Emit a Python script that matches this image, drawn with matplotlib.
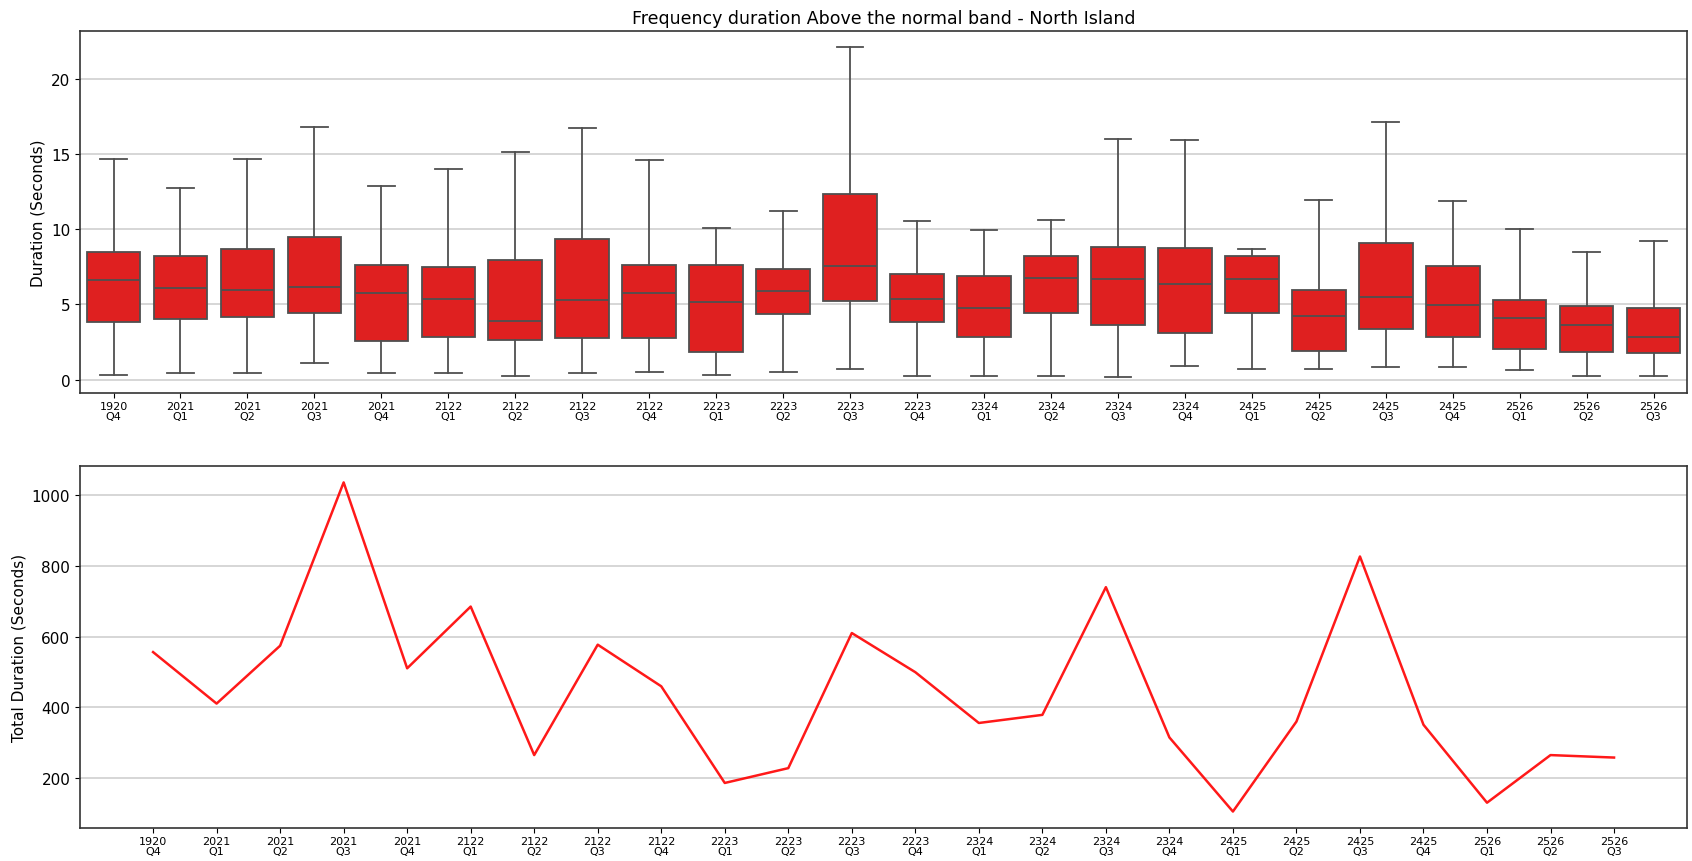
import matplotlib
matplotlib.use("Agg")
import matplotlib.pyplot as plt
import numpy as np

# quarter labels (financial year + quarter)
years = ["1920", "2021", "2021", "2021", "2021", "2122", "2122", "2122", "2122",
         "2223", "2223", "2223", "2223", "2324", "2324", "2324", "2324",
         "2425", "2425", "2425", "2425", "2526", "2526", "2526"]
quarters = ["Q4", "Q1", "Q2", "Q3", "Q4", "Q1", "Q2", "Q3", "Q4",
            "Q1", "Q2", "Q3", "Q4", "Q1", "Q2", "Q3", "Q4",
            "Q1", "Q2", "Q3", "Q4", "Q1", "Q2", "Q3"]

# box statistics per quarter (seconds)
whis_low = [0.31, 0.44, 0.44, 1.09, 0.44, 0.44, 0.24, 0.44, 0.47, 0.31, 0.53, 0.67,
            0.24, 0.24, 0.24, 0.18, 0.93, 0.67, 0.67, 0.80, 0.80, 0.60, 0.24, 0.24]
q1 = [3.84, 4.04, 4.17, 4.46, 2.53, 2.80, 2.60, 2.77, 2.77, 1.84, 4.33, 5.22,
      3.84, 2.86, 4.40, 3.64, 3.11, 4.46, 1.91, 3.33, 2.80, 2.04, 1.84, 1.78]
median = [6.61, 6.06, 5.97, 6.19, 5.75, 5.35, 3.88, 5.28, 5.75, 5.15, 5.90, 7.57,
          5.35, 4.79, 6.75, 6.66, 6.33, 6.66, 4.20, 5.48, 4.95, 4.11, 3.64, 2.86]
q3 = [8.46, 8.19, 8.68, 9.48, 7.64, 7.50, 7.97, 9.37, 7.64, 7.64, 7.37, 12.34,
      7.01, 6.88, 8.19, 8.81, 8.75, 8.19, 5.97, 9.08, 7.57, 5.28, 4.88, 4.79]
whis_high = [14.67, 12.74, 14.67, 16.83, 12.87, 13.98, 15.14, 16.76, 14.61, 10.06, 11.23, 22.15,
             10.57, 9.94, 10.63, 16.00, 15.92, 8.68, 11.96, 17.16, 11.85, 9.99, 8.46, 9.23]

# total duration per quarter (seconds)
total_duration = [556, 410, 574, 1037, 510, 685, 264, 577, 459, 185, 227, 610,
                  499, 355, 378, 740, 314, 104, 359, 827, 350, 129, 264, 257]

labels = [f"{y}\n{q}" for y, q in zip(years, quarters)]
x = np.arange(len(labels))

stats = []
for i in range(len(labels)):
    stats.append({"whislo": whis_low[i], "q1": q1[i], "med": median[i],
                  "q3": q3[i], "whishi": whis_high[i], "fliers": []})

fig = plt.figure(figsize=(16.92, 8.62), dpi=100)
ax1 = fig.add_axes([0.0473, 0.5429, 0.9498, 0.420])
ax2 = fig.add_axes([0.0473, 0.0383, 0.9498, 0.420])

grey = "#4f4f4f"
line_kw = dict(color=grey, linewidth=1.3)
ax1.bxp(stats, positions=x, widths=0.8, capwidths=0.4, patch_artist=True,
        showfliers=False,
        boxprops=dict(facecolor="#df2020", edgecolor=grey, linewidth=1.3),
        medianprops=line_kw, whiskerprops=line_kw, capprops=line_kw)
ax1.set_xlim(-0.5, len(labels) - 0.5)
ax1.set_ylim(-0.9, 23.2)
ax1.set_yticks([0, 5, 10, 15, 20])
ax1.set_ylabel("Duration (Seconds)", fontsize=11)
ax1.set_title("Frequency duration Above the normal band - North Island", fontsize=12.5)

ax2.plot(x, total_duration, color="red", linewidth=1.8, alpha=0.9)
ax2.set_yticks([200, 400, 600, 800, 1000])
ax2.set_ylabel("Total Duration (Seconds)", fontsize=11)

for ax in (ax1, ax2):
    ax.set_xticks(x)
    ax.set_xticklabels(labels, fontsize=8, linespacing=0.92)
    ax.tick_params(axis="x", pad=2.5)
    ax.tick_params(axis="y", labelsize=11)
    ax.yaxis.grid(True, color="#d3d3d3", linewidth=1.3)
    ax.set_axisbelow(True)
    for s in ax.spines.values():
        s.set_color("#333333")
        s.set_linewidth(1.2)

fig.savefig("out.png", dpi=100)
